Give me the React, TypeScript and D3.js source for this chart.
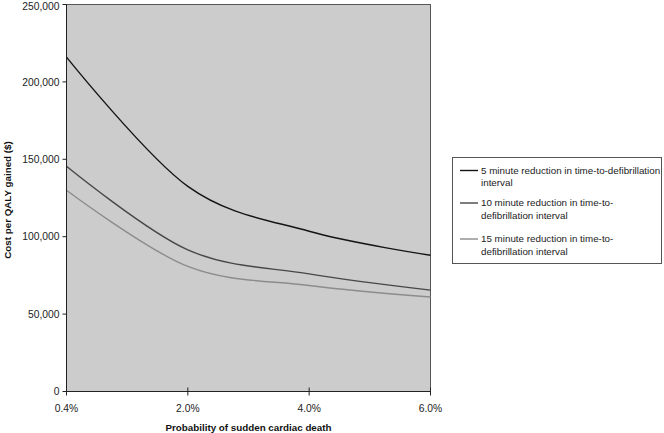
import React from "react";
import * as d3 from "d3";

const categories = ["0.4%", "2.0%", "4.0%", "6.0%"];
const yTicks = [0, 50000, 100000, 150000, 200000, 250000];
const series5 = [216000, 132500, 103500, 88000];
const series10 = [145500, 91500, 76000, 65500];
const series15 = [130000, 80800, 68500, 61000];
const seriesNames = [
  ["5 minute reduction in time-to-defibrillation", "interval"],
  ["10 minute reduction in time-to-", "defibrillation interval"],
  ["15 minute reduction in time-to-", "defibrillation interval"],
];
const seriesColors = ["#141414", "#474747", "#8c8c8c"];

export default function App() {
  const W = 664, H = 433;
  const left = 66.5, right = 430.5, top = 4.5, bottom = 391.5;
  const x = d3.scalePoint<string>().domain(categories).range([left, right]).padding(0);
  const y = d3.scaleLinear().domain([0, 250000]).range([bottom, top]);
  const fmt = d3.format(",");
  const line = d3
    .line<number>()
    .x((_, i) => x(categories[i]) as number)
    .y((d) => y(d))
    .curve(d3.curveCardinal.tension(0));
  const all = [series5, series10, series15];
  const font = "'Liberation Sans', Arial, sans-serif";
  return (
    <svg width={W} height={H} style={{ position: "absolute", left: 0, top: 0 }} fontFamily={font}>
      <rect x={0} y={0} width={W} height={H} fill="#fff" />
      <rect x={left} y={top} width={right - left} height={bottom - top} fill="#cccccc" stroke="#555" strokeWidth={1} />
      {all.map((s, i) => (
        <path key={i} d={line(s) || ""} fill="none" stroke={seriesColors[i]} strokeWidth={1.4} />
      ))}
      <line x1={left} x2={left} y1={top} y2={bottom} stroke="#222" strokeWidth={1} />
      <line x1={left} x2={right} y1={bottom} y2={bottom} stroke="#222" strokeWidth={1} />
      {yTicks.map((t) => (
        <g key={t}>
          <line x1={left - 4} x2={left} y1={y(t)} y2={y(t)} stroke="#222" />
          <text x={left - 7} y={Math.max(y(t), 6)} dy="0.35em" textAnchor="end" fontSize={10.3} fill="#222">
            {fmt(t)}
          </text>
        </g>
      ))}
      {categories.map((c) => (
        <g key={c}>
          <line x1={x(c)} x2={x(c)} y1={bottom - 4} y2={bottom + 4} stroke="#222" />
          <text x={x(c) as number} y={408} dy="0.35em" textAnchor="middle" fontSize={10.3} fill="#222">
            {c}
          </text>
        </g>
      ))}
      <text x={248.5} y={428} dy="0.35em" textAnchor="middle" fontSize={9.8} fontWeight="bold" fill="#111">
        Probability of sudden cardiac death
      </text>
      <text
        transform={`translate(8,200) rotate(-90)`}
        dy="0.35em"
        textAnchor="middle"
        fontSize={9.8}
        fontWeight="bold"
        fill="#111"
      >
        Cost per QALY gained ($)
      </text>
      <rect x={452.5} y={157.5} width={209} height={106} fill="#fff" stroke="#555" strokeWidth={1} />
      {seriesNames.map((lines, i) => {
        const cy = [170.5, 203, 239][i];
        return (
          <g key={i}>
            <line x1={460} x2={478} y1={cy} y2={cy} stroke={seriesColors[i]} strokeWidth={1.4} />
            {lines.map((t, j) => (
              <text key={j} x={481} y={cy + j * 12.5} dy="0.35em" fontSize={9.8} fill="#222">
                {t}
              </text>
            ))}
          </g>
        );
      })}
    </svg>
  );
}
